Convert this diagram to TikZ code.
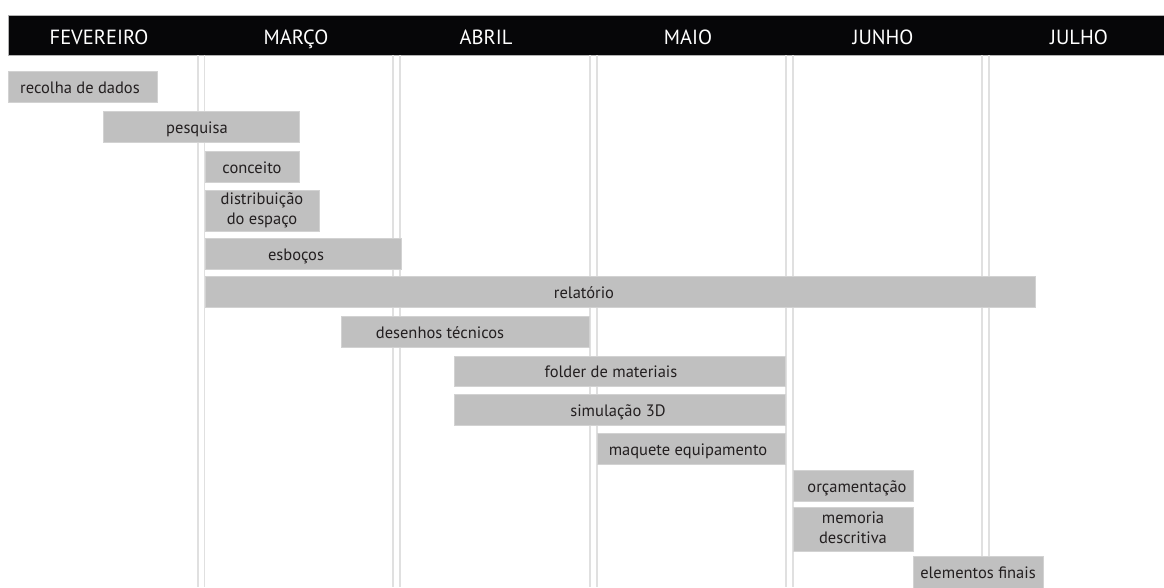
\documentclass[tikz,border=0pt]{standalone}
\usepackage{fontspec}
\setmainfont{PT Sans}
\definecolor{barfill}{HTML}{C0C0C0}
\definecolor{baredge}{HTML}{D2D2D2}
\definecolor{gridline}{HTML}{E0E0E0}
\definecolor{hdrfill}{HTML}{060608}
\definecolor{txt}{HTML}{231F20}
\tikzset{
  bar/.style={fill=barfill, draw=baredge, line width=0.6pt, inner sep=0pt, rectangle},
  lbl/.style={text=txt, font=\fontsize{16.5}{20}\selectfont, inner sep=0pt, anchor=base},
  lbltwo/.style={text=txt, font=\fontsize{16.5}{20}\selectfont, inner sep=0pt, align=center, anchor=center},
  hdr/.style={text=white, font=\fontsize{20.5}{24}\selectfont, inner sep=0pt, anchor=base},
  vline/.style={draw=gridline, line width=1.6pt},
}
\newcommand\gbar[5]{\node[bar, anchor=north west, minimum width={(#4-#2)*1pt}, minimum height={(#5-#3)*1pt}] (#1) at (#2,#3) {};}
\begin{document}
\begin{tikzpicture}[x=1pt,y=-1pt]
\useasboundingbox (0,0) rectangle (1164,587);
% header
\node[fill=hdrfill, draw=gray!60, line width=0.4pt, inner sep=0pt, anchor=north west, minimum width=1160pt, minimum height=40pt] (header) at (8,15) {};
\node[hdr] (feb) at (99,44) {FEVEREIRO};
\node[hdr] (mar) at (296,44) {MARÇO};
\node[hdr] (abr) at (486,44) {ABRIL};
\node[hdr] (mai) at (688,44) {MAIO};
\node[hdr] (jun) at (883,44) {JUNHO};
\node[hdr] (jul) at (1079,44) {JULHO};
% grid lines
\foreach \x/\n in {198/a1,204.5/a2,393/b1,400/b2,590/c1,597/c2,786/d1,793/d2,982/e1,989/e2}{
  \coordinate (top-\n) at (\x,55);
  \coordinate (bot-\n) at (\x,587);
  \draw[vline] (top-\n) -- (bot-\n);
}
% bars
\gbar{b1}{8}{71}{157}{102}
\gbar{b2}{103}{111}{299}{142}
\gbar{b3}{205}{151}{299}{182}
\gbar{b4}{205}{190}{319}{231}
\gbar{b5}{205}{238}{401}{269}
\gbar{b6}{205}{276}{1035}{307}
\gbar{b7}{341}{316}{589}{347}
\gbar{b8}{454}{356}{785}{386}
\gbar{b9}{454}{394}{785}{425}
\gbar{b10}{597}{433}{785}{464}
\gbar{b11}{793}{470}{913}{501}
\gbar{b12}{793}{507}{913}{551}
\gbar{b13}{913}{556}{1043}{588}
% labels
\node[lbl] (t1) at (80,93) {recolha de dados};
\node[lbl] (t2) at (197,133) {pesquisa};
\node[lbl] (t3) at (252,173) {conceito};
\node[lbltwo] (t4) at (262,210) {distribuição\\do espaço};
\node[lbl] (t5) at (296,260) {esboços};
\node[lbl] (t6) at (584,298) {relatório};
\node[lbl] (t7) at (440,338) {desenhos técnicos};
\node[lbl] (t8) at (611,377) {folder de materiais};
\node[lbl] (t9) at (618,416) {simulação 3D};
\node[lbl] (t10) at (688,455) {maquete equipamento};
\node[lbl] (t11) at (857,492) {orçamentação};
\node[lbltwo] (t12) at (853,528) {memoria\\descritiva};
\node[lbl] (t13) at (978,578) {elementos finais};
\end{tikzpicture}
\end{document}
